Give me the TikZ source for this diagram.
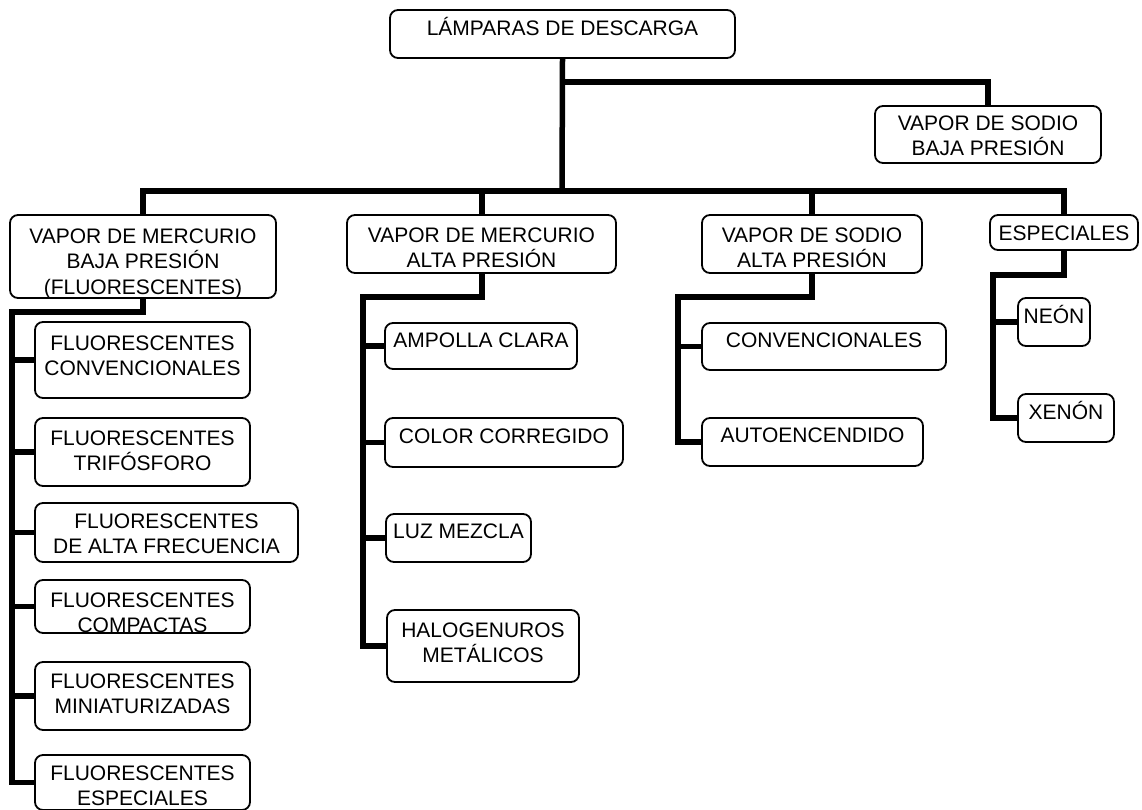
\documentclass[tikz,border=0pt]{standalone}
\usepackage{fontspec}
\setmainfont{Liberation Sans}
\begin{document}
\begin{tikzpicture}[x=1pt,y=-1pt,
  bx/.style={draw=black, line width=1.8pt, rounded corners=8pt, inner sep=0pt, fill=white},
  txt/.style={anchor=north, inner sep=0pt, align=center, font=\fontsize{21}{25.5}\selectfont},
  conn/.style={line width=5.5pt, line join=miter, line cap=butt}]
\useasboundingbox (0,0) rectangle (1142,809);
\newcommand\mkbox[7]{%
  \node[bx, minimum width={(#4-#2)*1pt}, minimum height={(#5-#3)*1pt}] (#1) at ({(#2+#4)/2},{(#3+#5)/2}) {};
  \node[txt] (#1-t) at ({(#2+#4)/2},#3) {\rule{0pt}{#6pt}#7};
}
% boxes
\mkbox{root}{390}{10}{735}{58}{25}{LÁMPARAS DE DESCARGA}
\mkbox{sbaja}{875}{106}{1101}{163}{24}{VAPOR DE SODIO\\BAJA PRESIÓN}
\mkbox{mbaja}{10}{215}{276}{298}{28}{VAPOR DE MERCURIO\\BAJA PRESIÓN\\(FLUORESCENTES)}
\mkbox{malta}{347}{215}{616}{273}{27}{VAPOR DE MERCURIO\\ALTA PRESIÓN}
\mkbox{salta}{702}{215}{922}{273}{27}{VAPOR DE SODIO\\ALTA PRESIÓN}
\mkbox{esp}{990}{215}{1138}{250}{25}{ESPECIALES}
\mkbox{fconv}{35}{322}{250}{398}{28}{FLUORESCENTES\\CONVENCIONALES}
\mkbox{trif}{35}{418}{250}{486}{27}{FLUORESCENTES\\TRIFÓSFORO}
\mkbox{frec}{35}{503}{298}{562}{25}{FLUORESCENTES\\DE ALTA FRECUENCIA}
\mkbox{comp}{35}{580}{250}{633}{27}{FLUORESCENTES\\COMPACTAS}
\mkbox{mini}{35}{662}{250}{730}{26}{FLUORESCENTES\\MINIATURIZADAS}
\mkbox{fesp}{35}{755}{250}{810}{25}{FLUORESCENTES\\ESPECIALES}
\mkbox{ampolla}{385}{323}{577}{369}{24}{AMPOLLA CLARA}
\mkbox{color}{385}{418}{623}{467}{25}{COLOR CORREGIDO}
\mkbox{luz}{386}{514}{531}{562}{24}{LUZ MEZCLA}
\mkbox{halog}{387}{610}{579}{682}{27}{HALOGENUROS\\METÁLICOS}
\mkbox{sconv}{702}{323}{946}{370}{24}{CONVENCIONALES}
\mkbox{auto}{702}{418}{923}{466}{24}{AUTOENCENDIDO}
\mkbox{neon}{1018}{298}{1090}{346}{25}{NEÓN}
\mkbox{xenon}{1018}{394}{1114}{442}{25}{XENÓN}
% named corner coordinates
\coordinate (bar) at (562,191);
\coordinate (tb) at (562,82);
\coordinate (mbh) at (12,312);
\coordinate (mah) at (363,297);
\coordinate (sah) at (678,297);
\coordinate (esh) at (993,275);
% top level
\draw[conn] (root.south) -- (bar);
\draw[conn] (tb) -| (988,0 |- sbaja.north);
\draw[conn] (mbaja.north) |- (bar) -| (esp.north);
\draw[conn] (482,0 |- bar) -- (482,0 |- malta.north);
\draw[conn] (salta.north |- bar) -- (salta.north);
% mercurio baja
\draw[conn] (mbaja.south) |- (mbh) -- (mbh |- fesp.west) -- (fesp.west);
\foreach \c in {fconv,trif,frec,comp,mini}
  \draw[conn] (mbh |- \c.west) -- (\c.west);
% mercurio alta
\draw[conn] (482,0 |- malta.south) |- (mah) -- (mah |- halog.west) -- (halog.west);
\foreach \c in {ampolla,color,luz}
  \draw[conn] (mah |- \c.west) -- (\c.west);
% sodio alta
\draw[conn] (salta.south) |- (sah) -- (sah |- auto.west) -- (auto.west);
\draw[conn] (sah |- sconv.west) -- (sconv.west);
% especiales
\draw[conn] (esp.south) |- (esh) -- (esh |- xenon.west) -- (xenon.west);
\draw[conn] (esh |- neon.west) -- (neon.west);
\end{tikzpicture}
\end{document}
